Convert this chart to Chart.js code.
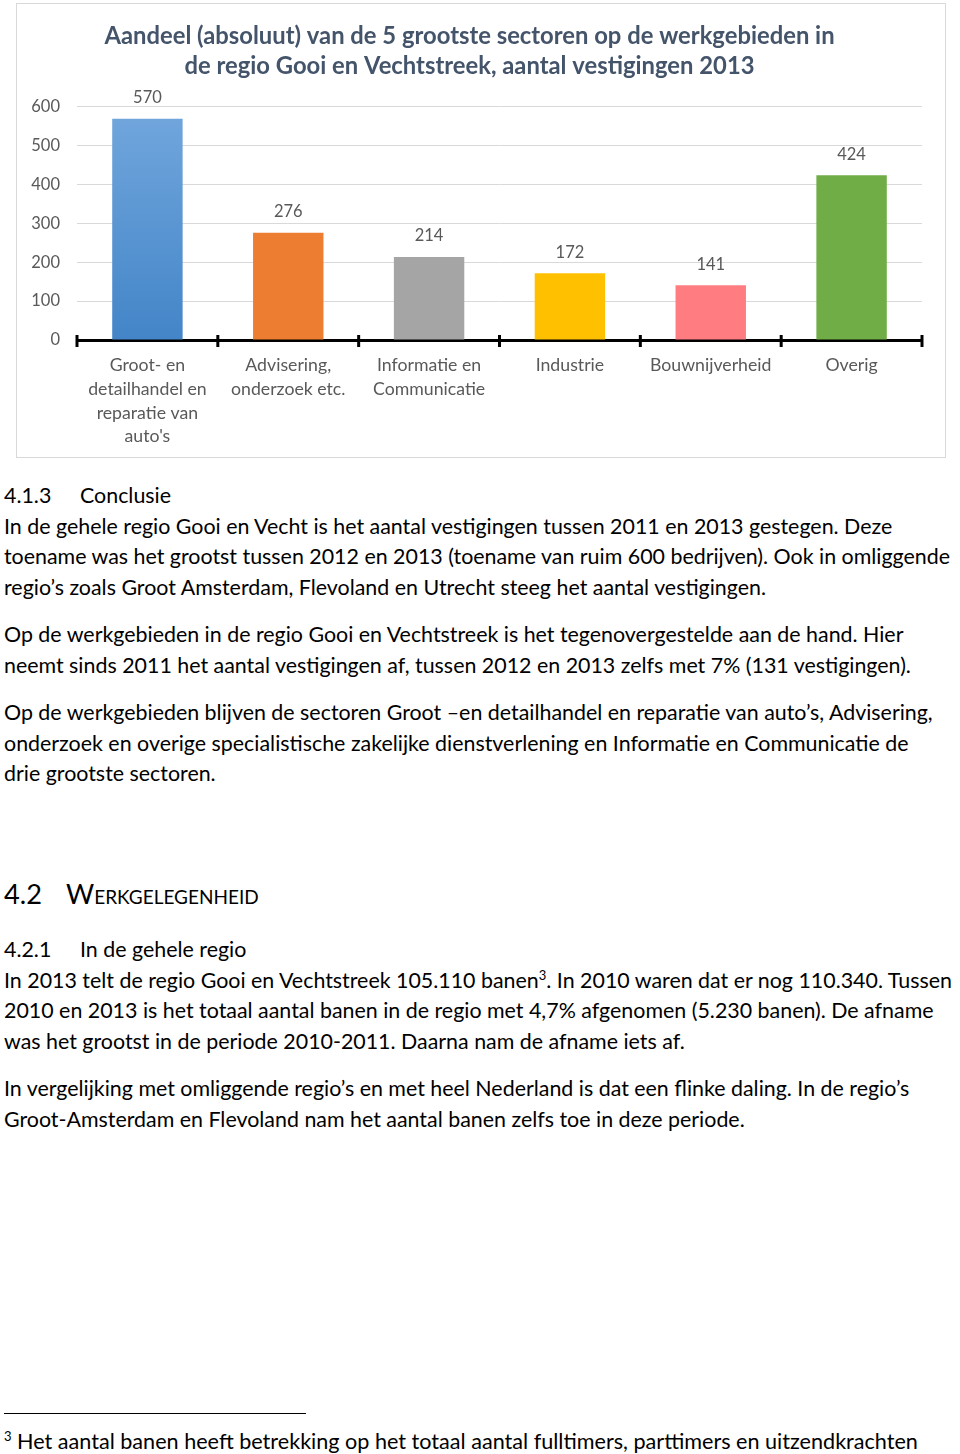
<!DOCTYPE html>
<html lang="nl">
<head>
<meta charset="utf-8">
<title>Aandeel grootste sectoren</title>
<script src="https://cdn.jsdelivr.net/npm/chart.js@4"></script>
<style>
  body { margin: 0; width: 960px; height: 1454px; background: #fff; position: relative; font-family: Lato, "Open Sans", sans-serif; color: #000; }
  .chartBox { position: absolute; left: 16px; top: 3px; width: 930px; height: 455px; border: 1px solid #d9d9d9; box-sizing: border-box; }
  .chartBox canvas { position: absolute; left: 0; top: 0; }
  .txt { position: absolute; left: 4px; font-size: 21.4px; line-height: 30.5px; white-space: nowrap; }
  .num { display: inline-block; width: 76px; }
  .h2 { position: absolute; left: 4px; font-size: 27.2px; font-weight: 400; line-height: 30px; white-space: nowrap; }
  .h2 .n { display: inline-block; width: 62px; }
  .sc { font-variant: small-caps; }
  sup { font-size: 13px; line-height: 0; vertical-align: 8px; }
  .rule { position: absolute; left: 4px; top: 1413px; width: 302px; height: 1px; background: #000; }
</style>
</head>
<body>
<div class="chartBox"><canvas id="sectorChart" width="928" height="453"></canvas></div>

<div class="txt" style="top:480px">
  <span class="num">4.1.3</span>Conclusie<br>
  In de gehele regio Gooi en Vecht is het aantal vestigingen tussen 2011 en 2013 gestegen. Deze<br>
  toename was het grootst tussen 2012 en 2013 (toename van ruim 600 bedrijven). Ook in omliggende<br>
  regio’s zoals Groot Amsterdam, Flevoland en Utrecht steeg het aantal vestigingen.
</div>
<div class="txt" style="top:619px">
  Op de werkgebieden in de regio Gooi en Vechtstreek is het tegenovergestelde aan de hand. Hier<br>
  neemt sinds 2011 het aantal vestigingen af, tussen 2012 en 2013 zelfs met 7% (131 vestigingen).
</div>
<div class="txt" style="top:697px">
  Op de werkgebieden blijven de sectoren Groot –en detailhandel en reparatie van auto’s, Advisering,<br>
  onderzoek en overige specialistische zakelijke dienstverlening en Informatie en Communicatie de<br>
  drie grootste sectoren.
</div>
<div class="h2" style="top:879px"><span class="n">4.2</span><span class="sc">Werkgelegenheid</span></div>
<div class="txt" style="top:934px">
  <span class="num">4.2.1</span>In de gehele regio<br>
  In 2013 telt de regio Gooi en Vechtstreek 105.110 banen<sup>3</sup>. In 2010 waren dat er nog 110.340. Tussen<br>
  2010 en 2013 is het totaal aantal banen in de regio met 4,7% afgenomen (5.230 banen). De afname<br>
  was het grootst in de periode 2010-2011. Daarna nam de afname iets af.
</div>
<div class="txt" style="top:1073px">
  In vergelijking met omliggende regio’s en met heel Nederland is dat een flinke daling. In de regio’s<br>
  Groot-Amsterdam en Flevoland nam het aantal banen zelfs toe in deze periode.
</div>
<div class="rule"></div>
<div class="txt" style="top:1426px; font-size:21.6px"><sup>3</sup> Het aantal banen heeft betrekking op het totaal aantal fulltimers, parttimers en uitzendkrachten</div>

<script>
const categories = [
  ["Groot- en", "detailhandel en", "reparatie van", "auto's"],
  ["Advisering,", "onderzoek etc."],
  ["Informatie en", "Communicatie"],
  "Industrie",
  "Bouwnijverheid",
  "Overig"
];
const vestigingen = [570, 276, 214, 172, 141, 424];
const barColors = ["#5b9bd5", "#ed7d31", "#a5a5a5", "#ffc000", "#ff7c80", "#70ad47"];
const yTicks = [0, 100, 200, 300, 400, 500, 600];

const labelColor = "#595959";
const fontFamily = "Lato, 'Open Sans', sans-serif";

function barColor(context) {
  const index = context.dataIndex;
  const area = context.chart.chartArea;
  if (index !== 0 || !area) {
    return barColors[index];
  }
  // eerste balk heeft een lichte verloop zoals in Excel
  const gradient = context.chart.ctx.createLinearGradient(0, area.top, 0, area.bottom);
  gradient.addColorStop(0, "#72a7dd");
  gradient.addColorStop(1, "#4385c8");
  return gradient;
}

const valueLabels = {
  id: "valueLabels",
  afterDatasetsDraw(chart) {
    const ctx = chart.ctx;
    const meta = chart.getDatasetMeta(0);
    ctx.save();
    ctx.fillStyle = labelColor;
    ctx.font = "16.5px " + fontFamily;
    ctx.textAlign = "center";
    ctx.textBaseline = "middle";
    meta.data.forEach((bar, i) => {
      ctx.fillText(String(vestigingen[i]), bar.x, bar.y - 21);
    });
    ctx.restore();
  }
};

const axisTicks = {
  id: "axisTicks",
  afterDraw(chart) {
    const ctx = chart.ctx;
    const xScale = chart.scales.x;
    const y0 = chart.scales.y.getPixelForValue(0);
    ctx.save();
    ctx.strokeStyle = "#000";
    ctx.lineWidth = 3;
    for (let i = 0; i <= categories.length; i++) {
      const x = xScale.getPixelForValue(i - 0.5);
      ctx.beginPath();
      ctx.moveTo(x, y0 - 5);
      ctx.lineTo(x, y0 + 7);
      ctx.stroke();
    }
    ctx.restore();
  }
};

new Chart(document.getElementById("sectorChart"), {
  type: "bar",
  data: {
    labels: categories,
    datasets: [
      {
        data: vestigingen,
        backgroundColor: barColor,
        borderWidth: 0,
        barPercentage: 0.5,
        categoryPercentage: 1
      }
    ]
  },
  options: {
    responsive: false,
    animation: false,
    layout: {
      padding: { left: 0, right: 23, top: 0, bottom: 0 }
    },
    plugins: {
      legend: { display: false },
      tooltip: { enabled: false },
      title: {
        display: true,
        text: [
          "Aandeel (absoluut) van de 5 grootste sectoren op de werkgebieden in",
          "de regio Gooi en Vechtstreek, aantal vestigingen 2013"
        ],
        color: "#44546a",
        font: { family: fontFamily, size: 23.8, weight: "bold", lineHeight: 1.26 },
        padding: { top: 17, bottom: 26 }
      }
    },
    scales: {
      x: {
        grid: { display: false },
        border: { display: true, color: "#000", width: 3 },
        ticks: {
          color: labelColor,
          font: { family: fontFamily, size: 17.7, lineHeight: 1.33 },
          padding: 6,
          maxRotation: 0,
          autoSkip: false
        },
        afterFit: (scale) => { scale.height = 117; }
      },
      y: {
        min: 0,
        max: 600,
        afterBuildTicks: (scale) => { scale.ticks = yTicks.map((v) => ({ value: v })); },
        grid: { color: "#d9d9d9", lineWidth: 1, drawTicks: false },
        border: { display: false },
        ticks: {
          color: labelColor,
          font: { family: fontFamily, size: 16.5 },
          padding: 17
        },
        afterFit: (scale) => { scale.width = 60; }
      }
    }
  },
  plugins: [valueLabels, axisTicks]
});
</script>
</body>
</html>
